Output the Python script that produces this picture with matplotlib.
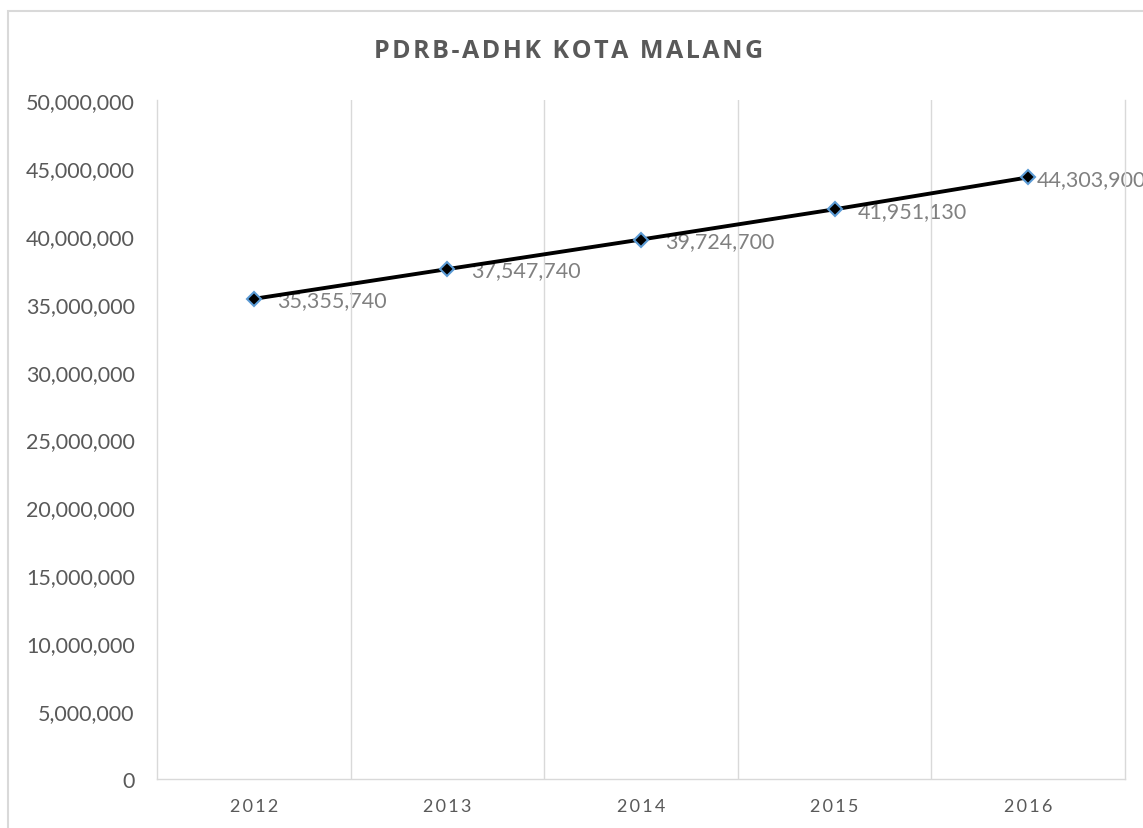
import matplotlib
matplotlib.use("Agg")
import matplotlib.pyplot as plt
from matplotlib.patches import Rectangle

plt.rcParams['font.family'] = ['Lato', 'DejaVu Sans']

years = ["2012", "2013", "2014", "2015", "2016"]
pdrb = [35355740, 37547740, 39724700, 41951130, 44303900]
title = "PDRB-ADHK KOTA MALANG"

GRID = "#d9d9d9"
TXT = "#595959"


def spaced(s, gap="\u2009"):
    return gap.join(s)


fig = plt.figure(figsize=(11.43, 8.29), dpi=100)
ax = fig.add_axes([157 / 1143, 49 / 829, 968 / 1143, 679 / 829])

# chart area border (runs off the right/bottom edge of the picture)
fig.patches.append(Rectangle((8 / 1143, -0.1), 1.2, 1.1 - 12 / 829,
                             transform=fig.transFigure, fill=False,
                             edgecolor=GRID, linewidth=1.5))

x = list(range(len(years)))
ax.plot(x, pdrb, color="black", linewidth=2.8, marker="D", markersize=7.5,
        markerfacecolor="black", markeredgecolor="#5b9bd5",
        markeredgewidth=1.5, zorder=3, clip_on=False)

for xi, v in zip(x, pdrb):
    # excel squeezes the last label against its marker
    dx = 6 if xi == x[-1] else 17
    ax.annotate(f"{v:,}", (xi, v), xytext=(dx, -1), textcoords="offset points",
                ha="left", va="center", fontsize=15.5, color="#808080",
                annotation_clip=False, zorder=1)

ax.set_xlim(-0.5, len(years) - 0.5)
ax.set_ylim(0, 50000000)
ax.set_yticks(range(0, 50000001, 5000000))
ax.set_yticklabels([f"{v:,}" for v in range(0, 50000001, 5000000)])
ax.set_xticks(x)
ax.set_xticklabels([spaced(y) for y in years])
ax.set_xticks([i + 0.5 for i in x[:-1]], minor=True)
ax.grid(True, which="minor", axis="x", color=GRID, linewidth=1.0)
ax.grid(False, which="major")

ax.tick_params(axis="both", which="both", length=0)
ax.tick_params(axis="y", labelsize=15.5, labelcolor=TXT, pad=16)
ax.tick_params(axis="x", labelsize=13, labelcolor=TXT, pad=14)

ax.spines["top"].set_visible(False)
for side in ["left", "right", "bottom"]:
    ax.spines[side].set_color(GRID)
    ax.spines[side].set_linewidth(1.0)

fig.text(0.497, 1 - 51 / 829, spaced(title, "\u200a"), ha="center", va="center",
         fontsize=18, fontweight="bold", color=TXT,
         family=["Open Sans", "DejaVu Sans"])

fig.savefig("out.png", dpi=100)
